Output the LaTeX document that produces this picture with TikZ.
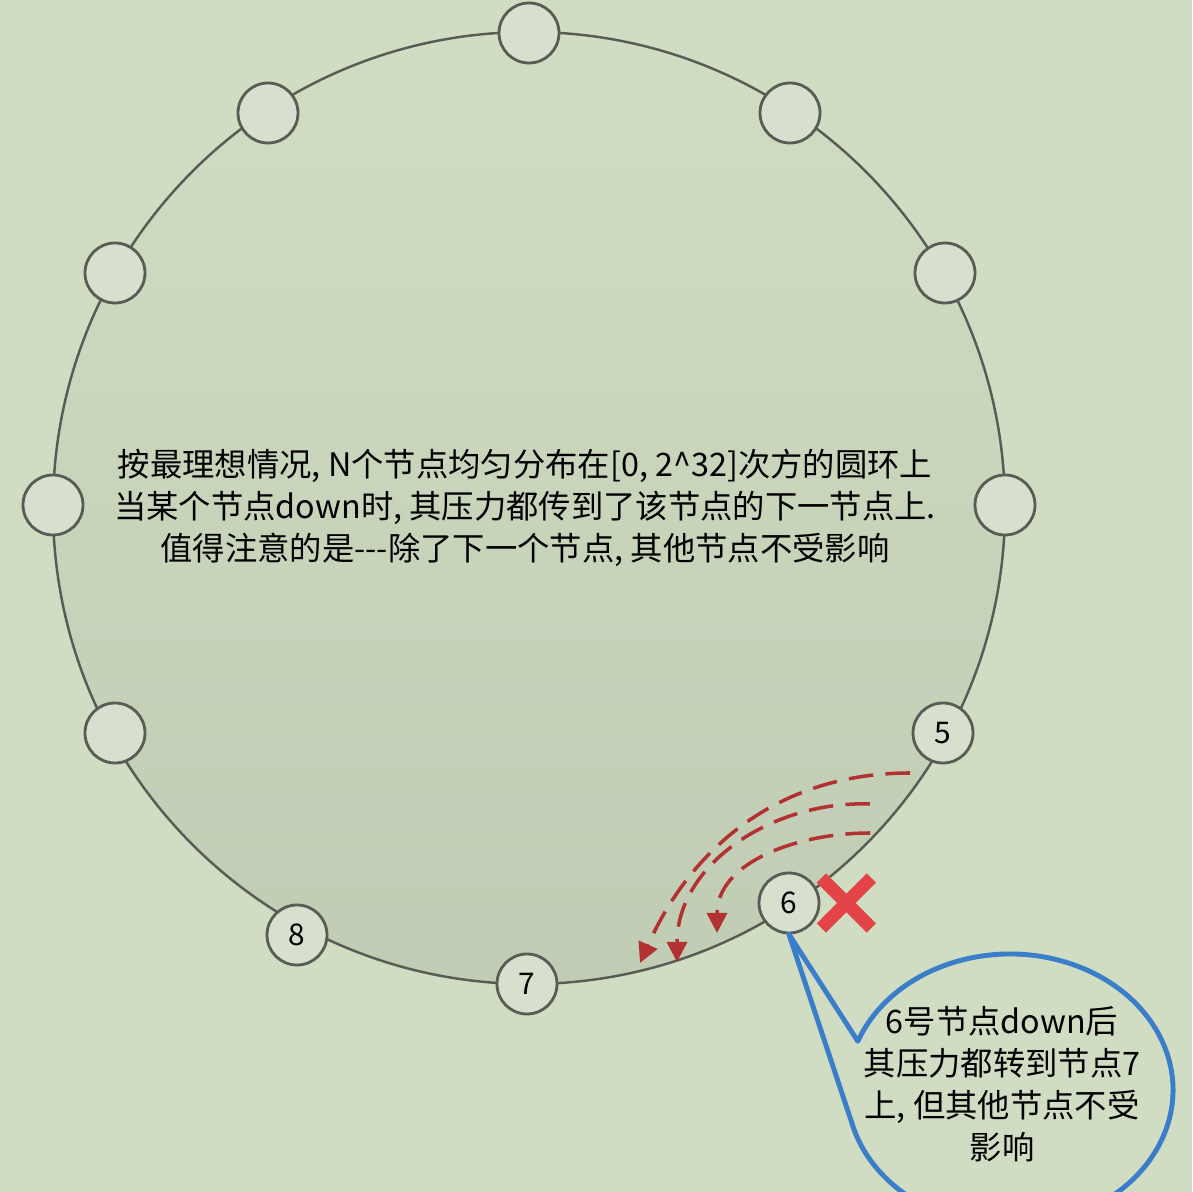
\documentclass[tikz,border=0pt]{standalone}
\usepackage{fontspec}
\newfontfamily\cjk{Noto Sans CJK SC}
\usetikzlibrary{arrows.meta, positioning}

\definecolor{bgc}{RGB}{208,221,194}
\definecolor{ringlow}{RGB}{192,204,179}
\definecolor{nodefill}{RGB}{215,223,206}
\definecolor{edgegray}{RGB}{88,92,84}
\definecolor{arrowred}{RGB}{178,50,52}
\definecolor{crossred}{RGB}{226,68,72}
\definecolor{noteblue}{RGB}{58,125,200}

\begin{document}
\begin{tikzpicture}[
  font=\cjk\fontsize{9.2}{12}\selectfont,
  ring/.style={draw=edgegray, line width=0.7pt},
  slot/.style={circle, draw=edgegray, line width=0.8pt, fill=nodefill, minimum size=0.6cm, inner sep=0pt, font=\cjk\fontsize{8.5}{10}\selectfont},
  shift arrow/.style={draw=arrowred, line width=1pt, dash pattern=on 7pt off 3.5pt, -{Triangle[length=0.2cm, width=0.2cm]}},
  balloon/.style={draw=noteblue, line width=1.4pt, line join=round}
]
\clip (0,0) rectangle (11.92,11.92);
\fill[bgc] (0,0) rectangle (11.92,11.92);

\coordinate (c) at (5.29,6.84);
\draw[ring, top color=bgc, middle color=bgc, bottom color=ringlow] (c) circle (4.76cm);

\node[slot] at (5.29,11.59) (n1) {};
\node[slot] at (7.90,10.79) (n2) {};
\node[slot] at (9.45,9.19) (n3) {};
\node[slot] at (10.05,6.87) (n4) {};
\node[slot] at (9.43,4.59) (n5) {5};
\node[slot] at (7.89,2.89) (n6) {6};
\node[slot] at (5.27,2.08) (n7) {7};
\node[slot] at (2.97,2.57) (n8) {8};
\node[slot] at (1.15,4.59) (n9) {};
\node[slot] at (0.53,6.87) (n10) {};
\node[slot] at (1.15,9.19) (n11) {};
\node[slot] at (2.68,10.79) (n12) {};

\node[align=center] at (5.25,6.84) (summary) {按最理想情况, N个节点均匀分布在[0, 2\textasciicircum 32]次方的圆环上\\当某个节点down时, 其压力都传到了该节点的下一节点上.\\值得注意的是-{}-{}-除了下一个节点, 其他节点不受影响};

\coordinate (s1) at (9.10,4.19);
\coordinate (e1) at (6.40,2.29);
\coordinate (s2) at (8.70,3.88);
\coordinate (e2) at (6.77,2.30);
\coordinate (s3) at (8.70,3.59);
\coordinate (e3) at (7.17,2.59);
\draw[shift arrow] (s1) to[out=180, in=66] (e1);
\draw[shift arrow] (s2) to[out=178, in=90] (e2);
\draw[shift arrow] (s3) to[out=180, in=90] (e3);

\coordinate[right=0.26cm of n6] (fail);
\draw[crossred, line width=3.7pt] (fail) ++(-0.25,0.25) -- ++(0.5,-0.5) (fail) ++(-0.25,-0.25) -- ++(0.5,0.5);

\coordinate (bubble) at (10.10,1.02);
\draw[balloon] (n6.south) -- ([shift={(159:1.63cm and 1.36cm)}]bubble) arc[start angle=159, end angle=-166, x radius=1.63cm, y radius=1.36cm] -- cycle;
\node[align=center] at (10.02,1.08) (note) {6号节点down后\\其压力都转到节点7\\上, 但其他节点不受\\影响};
\end{tikzpicture}
\end{document}
